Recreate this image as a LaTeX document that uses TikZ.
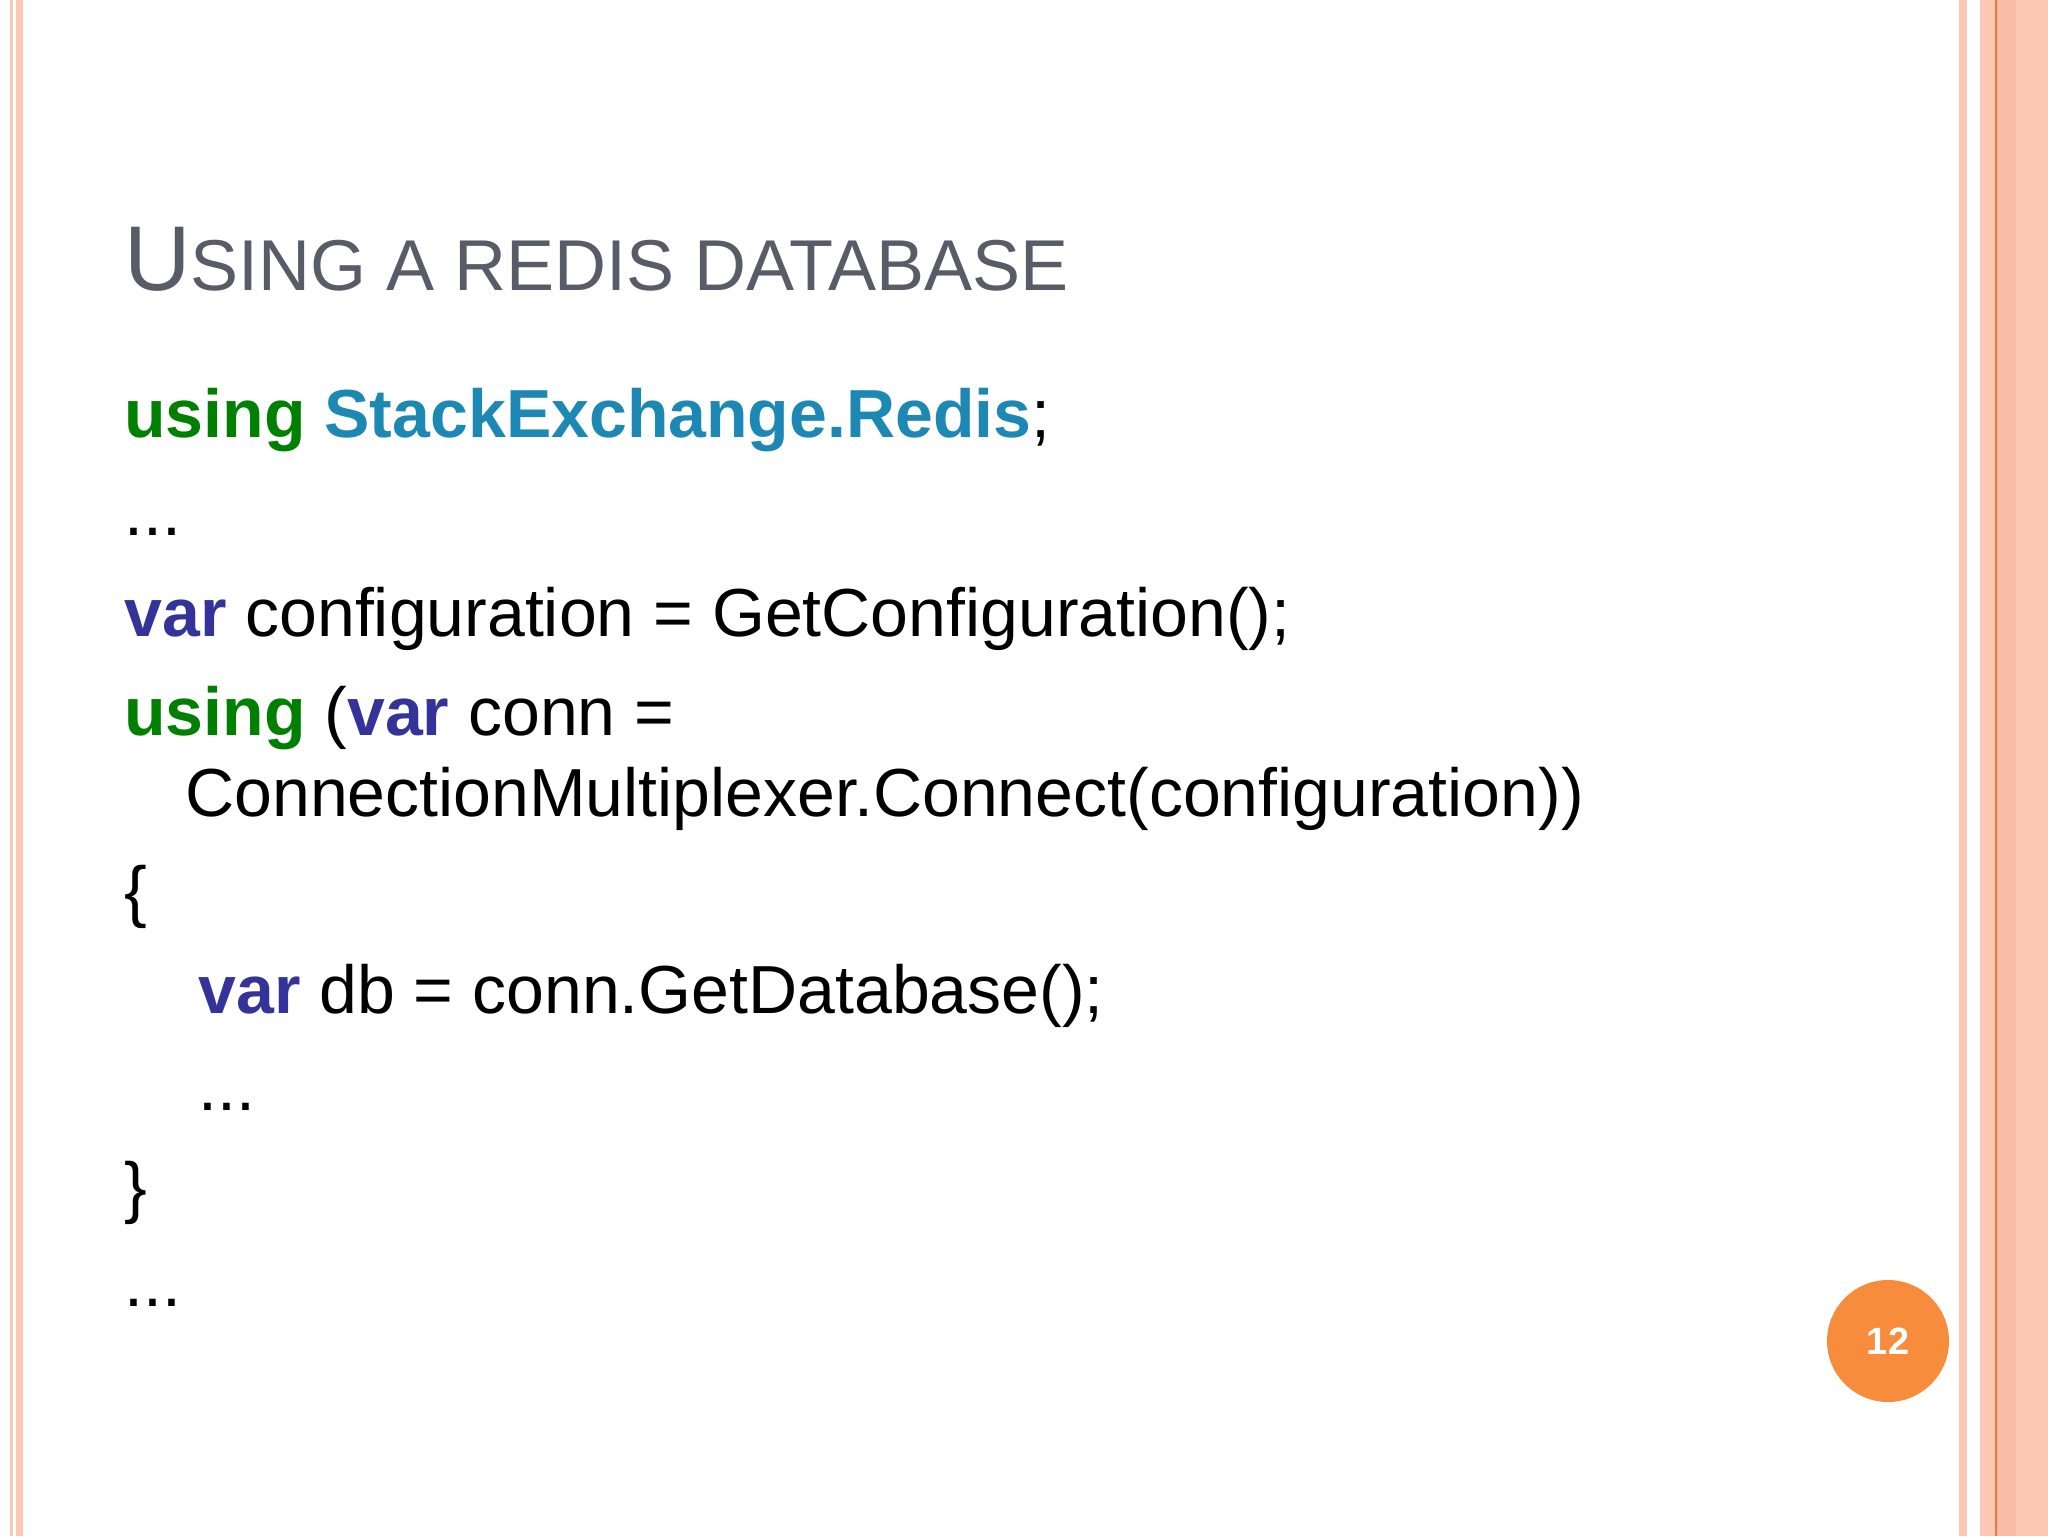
\documentclass[tikz,border=0pt]{standalone}
\usepackage{fontspec}
\setmainfont{Liberation Sans}
\definecolor{salm}{RGB}{252,200,180}
\definecolor{salmd}{RGB}{250,190,168}
\definecolor{orl}{RGB}{236,120,60}
\definecolor{kgreen}{RGB}{0,128,0}
\definecolor{kteal}{RGB}{30,136,180}
\definecolor{kvar}{RGB}{51,51,153}
\definecolor{ttl}{RGB}{88,92,104}
\definecolor{badge}{RGB}{247,140,60}
\tikzset{code/.style={anchor=base west,inner sep=0pt,font=\fontsize{34}{40}\selectfont}}
\newcommand{\kw}[2]{\textcolor{#1}{\textbf{#2}}}
\begin{document}
\begin{tikzpicture}[x=0.5pt,y=-0.5pt]
\fill[white] (0,0) rectangle (2048,1536);
\useasboundingbox (0,0) rectangle (2048,1536);
% left stripes
\fill[salm] (10,0) rectangle (13,1536);
\fill[salm] (16,0) rectangle (23,1536);
% right stripes
\fill[salm] (1959,0) rectangle (1967,1536);
\fill[salm] (1980,0) rectangle (2048,1536);
\fill[salmd] (1997,0) rectangle (2016,1536);
\draw[orl,line width=0.8pt] (1996,0) -- (1996,1536);
% title
\node[anchor=base west,inner sep=0pt,text=ttl] (title) at (124,290)
  {\fontsize{46}{50}\selectfont U\fontsize{36}{40}\selectfont SING A REDIS DATABASE};
% code
\node[code] (l1) at (124,437) {\kw{kgreen}{using} \kw{kteal}{StackExchange.Redis};};
\node[code] (l2) at (124,535) {...};
\node[code] (l3) at (124,636) {\kw{kvar}{var} configuration = GetConfiguration();};
\node[code] (l4) at (124,735) {\kw{kgreen}{using} (\kw{kvar}{var} conn =};
\node[code] (l5) at (185,816) {ConnectionMultiplexer.Connect(configuration))};
\node[code] (l6) at (124,914) {\{};
\node[code] (l7) at (198,1013) {\kw{kvar}{var} db = conn.GetDatabase();};
\node[code] (l8) at (198,1110) {...};
\node[code] (l9) at (124,1210) {\}};
\node[code] (l10) at (124,1306) {...};
% badge
\node[circle,fill=badge,minimum size=61pt,inner sep=0pt,text=white,font=\bfseries\fontsize{19}{22}\selectfont] (badge) at (1888,1341) {12};
\end{tikzpicture}
\end{document}
